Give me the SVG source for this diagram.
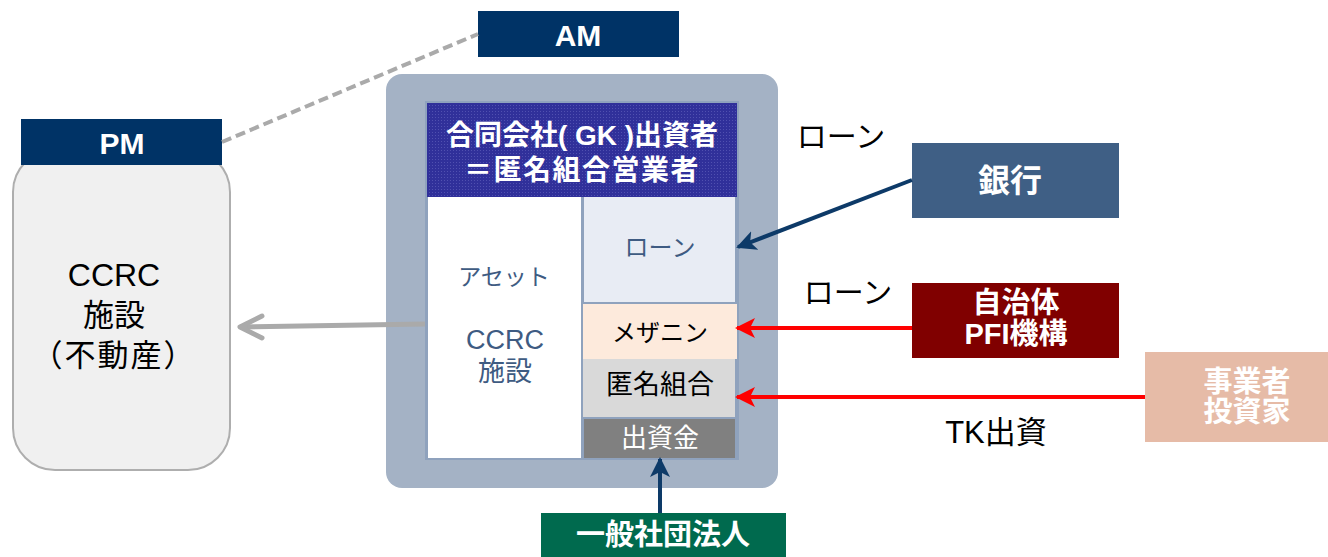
<svg xmlns="http://www.w3.org/2000/svg" width="1328" height="557" viewBox="0 0 1328 557">
  <style>
    text { font-family: "Liberation Sans", "Noto Sans CJK JP", sans-serif; text-anchor: middle; dominant-baseline: central; }
    .wb { fill: #FFFFFF; font-weight: bold; }
    .blk { fill: #000000; }
    .slate { fill: #3E5B82; }
  </style>
  <defs>
    <pattern id="dots" width="3" height="3" patternUnits="userSpaceOnUse">
      <rect width="3" height="3" fill="#30309A"/>
      <rect width="1" height="1" fill="#5050B0"/>
    </pattern>
    <marker id="navyHead" viewBox="0 0 10 10" refX="9" refY="5" markerWidth="5" markerHeight="5" orient="auto" markerUnits="strokeWidth">
      <path d="M0,0 L10,5 L0,10 L2.5,5 z" fill="#0D3A68"/>
    </marker>
    <marker id="redHead" viewBox="0 0 10 10" refX="9" refY="5" markerWidth="5" markerHeight="5" orient="auto" markerUnits="strokeWidth">
      <path d="M0,0 L10,5 L0,10 L2.5,5 z" fill="#FF0000"/>
    </marker>
  </defs>

  <g id="facility">
    <rect x="13" y="150" width="217" height="320" rx="42" fill="#F0F0F0" stroke="#AEAEAE" stroke-width="2"/>
    <text class="blk" x="114" y="275" font-size="32">CCRC</text>
    <text class="blk" x="114" y="315" font-size="31">施設</text>
    <text class="blk" x="114" y="355" font-size="31" letter-spacing="2">（不動産）</text>
  </g>

  <g id="pm">
    <rect x="21" y="119" width="201" height="46" fill="#003366"/>
    <text class="wb" x="122" y="143" font-size="30">PM</text>
  </g>

  <g id="am">
    <rect x="478" y="11" width="201" height="46" fill="#003366"/>
    <text class="wb" x="578" y="35" font-size="30">AM</text>
  </g>

  <g id="gk">
    <rect x="386" y="74" width="392" height="414" rx="16" fill="#A4B2C5"/>
    <rect x="425" y="101" width="314" height="359" fill="#8FA2BD"/>
    <rect x="427" y="103" width="310" height="94" fill="url(#dots)"/>
    <text class="wb" x="582" y="135" font-size="28">合同会社( GK )出資者</text>
    <text class="wb" x="582" y="170" font-size="28" letter-spacing="1.5">＝匿名組合営業者</text>
    <rect x="428" y="197" width="153" height="261" fill="#FFFFFF"/>
    <text class="slate" x="504" y="277" font-size="23">アセット</text>
    <text class="slate" x="505" y="340" font-size="27">CCRC</text>
    <text class="slate" x="505" y="372" font-size="27">施設</text>
    <rect x="584" y="197" width="151" height="105" fill="#E8ECF4"/>
    <text class="slate" x="660" y="247" font-size="24">ローン</text>
    <rect x="583" y="304" width="154" height="55" fill="#FDEADC"/>
    <text class="blk" x="660" y="332" font-size="24">メザニン</text>
    <rect x="583" y="359" width="152" height="58" fill="#D9D9D9"/>
    <text class="blk" x="660" y="385" font-size="27">匿名組合</text>
    <rect x="584" y="419" width="151" height="39" fill="#808080"/>
    <text x="660" y="438" font-size="26" fill="#FFFFFF">出資金</text>
  </g>

  <g id="bank">
    <rect x="912" y="143" width="207" height="75" fill="#3F5F85"/>
    <text class="wb" x="1010" y="181" font-size="32">銀行</text>
  </g>

  <g id="pfi">
    <rect x="912" y="283" width="207" height="75" fill="#800000"/>
    <text class="wb" x="1016" y="303" font-size="29">自治体</text>
    <text class="wb" x="1016" y="334" font-size="29">PFI機構</text>
  </g>

  <g id="investor">
    <rect x="1145" y="352" width="183" height="90" fill="#E6BBA7"/>
    <text class="wb" x="1247" y="382" font-size="29">事業者</text>
    <text class="wb" x="1247" y="412" font-size="29">投資家</text>
  </g>

  <g id="association">
    <rect x="541" y="513" width="245" height="44" fill="#006A4E"/>
    <text class="wb" x="663" y="535" font-size="29">一般社団法人</text>
  </g>

  <g id="labels">
    <text class="blk" x="841" y="136" font-size="30">ローン</text>
    <text class="blk" x="848" y="292" font-size="30">ローン</text>
    <text class="blk" x="996" y="432" font-size="31">TK出資</text>
  </g>

  <g id="connectors" fill="none">
    <line x1="222" y1="142" x2="478" y2="34" stroke="#AAAAAA" stroke-width="4" stroke-dasharray="10,5"/>
    <line x1="425" y1="324" x2="240" y2="327" stroke="#AAAAAA" stroke-width="5"/>
    <polyline points="262,316 240,327 262,338" stroke="#AAAAAA" stroke-width="5" stroke-linecap="round" stroke-linejoin="round"/>
    <line x1="912" y1="180" x2="738" y2="247" stroke="#0D3A68" stroke-width="4" marker-end="url(#navyHead)"/>
    <line x1="912" y1="328" x2="737" y2="328" stroke="#FF0000" stroke-width="4" marker-end="url(#redHead)"/>
    <line x1="1145" y1="397" x2="737" y2="397" stroke="#FF0000" stroke-width="4" marker-end="url(#redHead)"/>
    <line x1="660" y1="513" x2="660" y2="459" stroke="#0D3A68" stroke-width="4" marker-end="url(#navyHead)"/>
  </g>
</svg>
